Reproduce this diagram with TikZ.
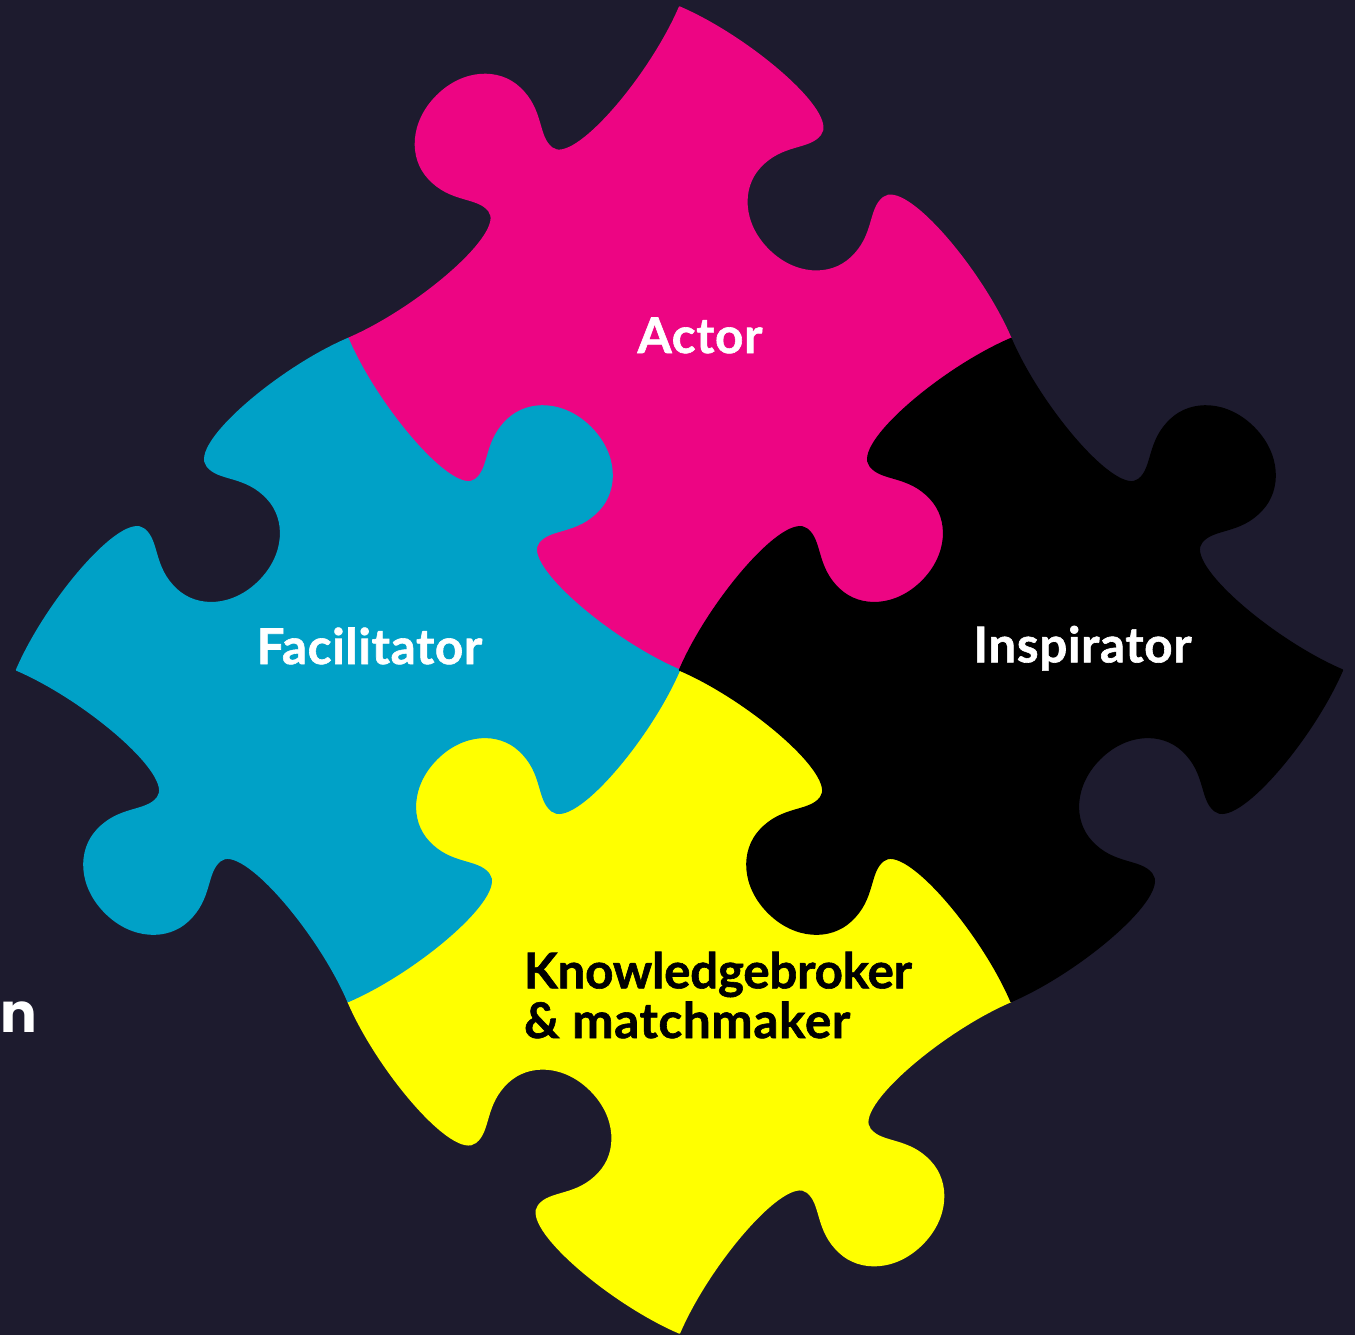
\documentclass[tikz,border=0pt]{standalone}
\usepackage{fontspec}
\newfontfamily\gillfont{Lato}[LetterSpace=1.5, BoldFeatures={FakeBold=1.2}]
\newfontfamily\gillnarrow{Lato}[LetterSpace=-0.4, BoldFeatures={FakeBold=1.2}]
\newfontfamily\popfont{Poppins}
\definecolor{bgc}{RGB}{29,27,46}
\definecolor{pinkc}{RGB}{237,5,131}
\definecolor{cyanc}{RGB}{0,161,199}
\definecolor{yellowc}{RGB}{255,255,0}
\definecolor{blackc}{RGB}{0,0,0}
\def\piecepath{(-0.5,-0.5)
 .. controls (-0.35,-0.44) and (-0.10,-0.42) .. (-0.095,-0.48)
 .. controls (-0.09,-0.52) and (-0.14,-0.55) .. (-0.137,-0.62)
 .. controls (-0.135,-0.68) and (-0.08,-0.732) .. (0,-0.732)
 .. controls (0.08,-0.732) and (0.135,-0.68) .. (0.137,-0.62)
 .. controls (0.14,-0.55) and (0.09,-0.52) .. (0.095,-0.48)
 .. controls (0.10,-0.42) and (0.35,-0.44) .. (0.5,-0.5)
 .. controls (0.56,-0.35) and (0.58,-0.10) .. (0.52,-0.095)
 .. controls (0.48,-0.09) and (0.45,-0.14) .. (0.38,-0.137)
 .. controls (0.32,-0.135) and (0.268,-0.08) .. (0.268,0)
 .. controls (0.268,0.08) and (0.32,0.135) .. (0.38,0.137)
 .. controls (0.45,0.14) and (0.48,0.09) .. (0.52,0.095)
 .. controls (0.58,0.10) and (0.56,0.35) .. (0.5,0.5)
 .. controls (0.35,0.44) and (0.10,0.42) .. (0.095,0.48)
 .. controls (0.09,0.52) and (0.14,0.55) .. (0.137,0.62)
 .. controls (0.135,0.68) and (0.08,0.732) .. (0,0.732)
 .. controls (-0.08,0.732) and (-0.135,0.68) .. (-0.137,0.62)
 .. controls (-0.14,0.55) and (-0.09,0.52) .. (-0.095,0.48)
 .. controls (-0.10,0.42) and (-0.35,0.44) .. (-0.5,0.5)
 .. controls (-0.56,0.35) and (-0.58,0.10) .. (-0.52,0.095)
 .. controls (-0.48,0.09) and (-0.45,0.14) .. (-0.38,0.137)
 .. controls (-0.32,0.135) and (-0.268,0.08) .. (-0.268,0)
 .. controls (-0.268,-0.08) and (-0.32,-0.135) .. (-0.38,-0.137)
 .. controls (-0.45,-0.14) and (-0.48,-0.09) .. (-0.52,-0.095)
 .. controls (-0.58,-0.10) and (-0.56,-0.35) .. (-0.5,-0.5) -- cycle}
\tikzset{
  piece/.style={fill=#1, draw=#1, line width=0.4pt, line join=round},
  lbl/.style={inner sep=0pt, font=\gillfont\bfseries\fontsize{14}{14}\selectfont},
}
\begin{document}
\begin{tikzpicture}
\fill[bgc] (0,0) rectangle (13.55,-13.35);
\useasboundingbox (0,0) rectangle (13.55,-13.35);
\path[piece=pinkc, shift={(6.795,-3.385)}, rotate=45, scale=4.688] \piecepath;
\path[piece=yellowc, shift={(6.795,-10.015)}, rotate=45, scale=4.688] \piecepath;
\path[piece=cyanc, shift={(3.48,-6.70)}, rotate=-45, scale=4.688] \piecepath;
\path[piece=blackc, shift={(10.11,-6.70)}, rotate=-45, scale=4.688] \piecepath;
\node[lbl, text=white, anchor=base] (actor) at (7.00,-3.53) {Actor};
\node[lbl, text=white, anchor=base] (facil) at (3.695,-6.64) {Facilitator};
\node[lbl, text=white, anchor=base] (inspir) at (10.825,-6.623) {Inspirator};
\node[lbl, text=black, anchor=base west, font=\gillnarrow\bfseries\fontsize{14}{14}\selectfont] (know1) at (5.233,-9.883) {Knowledgebroker};
\node[lbl, text=black, anchor=base west] (know2) at (5.233,-10.38) {\&\ matchmaker};
\node[inner sep=0pt, anchor=base west, text=white, font=\popfont\bfseries\fontsize{15.5}{16}\selectfont] (nfrag) at (0.0,-10.32) {n};
\end{tikzpicture}
\end{document}
